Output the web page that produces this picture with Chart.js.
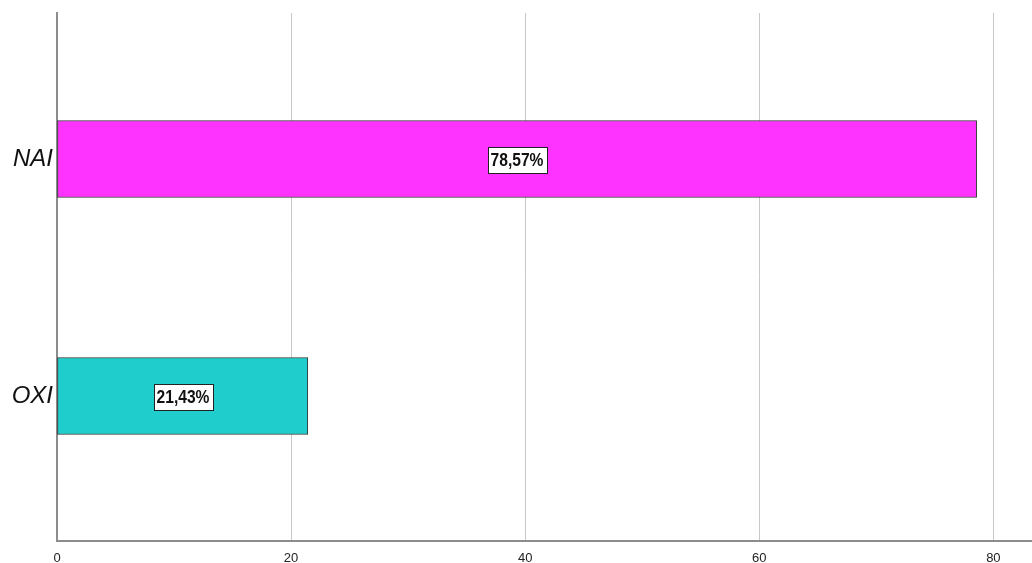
<!DOCTYPE html>
<html>
<head>
<meta charset="utf-8">
<script src="https://cdn.jsdelivr.net/npm/chart.js@4"></script>
<style>
  body { margin: 0; background: #fff; }
  #wrap { width: 1032px; height: 563px; position: relative; }
</style>
</head>
<body>
<div id="wrap"><canvas id="chart"></canvas></div>
<script>
// data
const categories = ["NAI", "OXI"];
const values = [78.57, 21.43];
const valueLabels = ["78,57%", "21,43%"];
const barColors = ["#ff33ff", "#1fcdcd"];
const xTicks = [0, 20, 40, 60, 80];

// white boxed label in the middle of each bar (condensed bold text)
const boxLabels = {
  id: "boxLabels",
  afterDatasetsDraw(chart) {
    const ctx = chart.ctx;
    const meta = chart.getDatasetMeta(0);
    const squeeze = 0.82;
    ctx.save();
    ctx.font = "bold 19px 'Liberation Sans', Arial, sans-serif";
    ctx.textAlign = "center";
    ctx.textBaseline = "middle";
    meta.data.forEach((bar, i) => {
      const cx = Math.round((bar.x + bar.base) / 2);
      const cy = Math.round(bar.y) + 1;
      const w = Math.round(ctx.measureText(valueLabels[i]).width * squeeze + 6);
      const h = 26;
      const left = Math.round(cx - w / 2);
      const top = Math.round(cy - h / 2);
      ctx.fillStyle = "#fff";
      ctx.fillRect(left, top, w, h);
      ctx.strokeStyle = "#222";
      ctx.lineWidth = 1;
      ctx.strokeRect(left + 0.5, top + 0.5, w, h);
      ctx.save();
      ctx.translate(cx, cy + 1);
      ctx.scale(squeeze, 1);
      ctx.fillStyle = "#111";
      ctx.fillText(valueLabels[i], 0, 0);
      ctx.restore();
    });
    ctx.restore();
  }
};

new Chart(document.getElementById("chart"), {
  type: "bar",
  data: {
    datasets: [{
      data: values.map((v, i) => ({ x: v, y: i + 1 })),
      backgroundColor: barColors,
      borderColor: "#333",
      borderWidth: 1,
      borderSkipped: false,
      barThickness: 77
    }]
  },
  options: {
    indexAxis: "y",
    responsive: true,
    maintainAspectRatio: false,
    animation: false,
    layout: { padding: { top: 13, right: 0, left: 0, bottom: 0 } },
    plugins: {
      legend: { display: false },
      tooltip: { enabled: false }
    },
    scales: {
      x: {
        type: "linear",
        min: 0,
        max: 83.3,
        afterBuildTicks: (scale) => { scale.ticks = xTicks.map(v => ({ value: v })); },
        afterFit: (scale) => { scale.height = 22; },
        ticks: {
          color: "#222",
          padding: 10,
          maxRotation: 0,
          font: { size: 13, family: "'Liberation Sans', Arial, sans-serif" }
        },
        grid: { color: "#c8c8c8", lineWidth: 1, drawTicks: false },
        border: { display: true, color: "#8c8c8c", width: 2 }
      },
      y: {
        type: "linear",
        reverse: true,
        offset: false,
        min: 0.384,
        max: 2.612,
        afterBuildTicks: (scale) => { scale.ticks = categories.map((c, i) => ({ value: i + 1 })); },
        afterFit: (scale) => {
          scale.width = 57;
          scale.paddingTop = 0;
          scale.paddingBottom = 0;
        },
        ticks: {
          color: "#111",
          padding: 4,
          callback: (v) => categories[v - 1],
          font: { size: 24, style: "italic", family: "'Liberation Sans', Arial, sans-serif" }
        },
        grid: { display: false, drawTicks: false, offset: false },
        border: { display: true, color: "#8c8c8c", width: 2 }
      }
    }
  },
  plugins: [boxLabels]
});
</script>
</body>
</html>
